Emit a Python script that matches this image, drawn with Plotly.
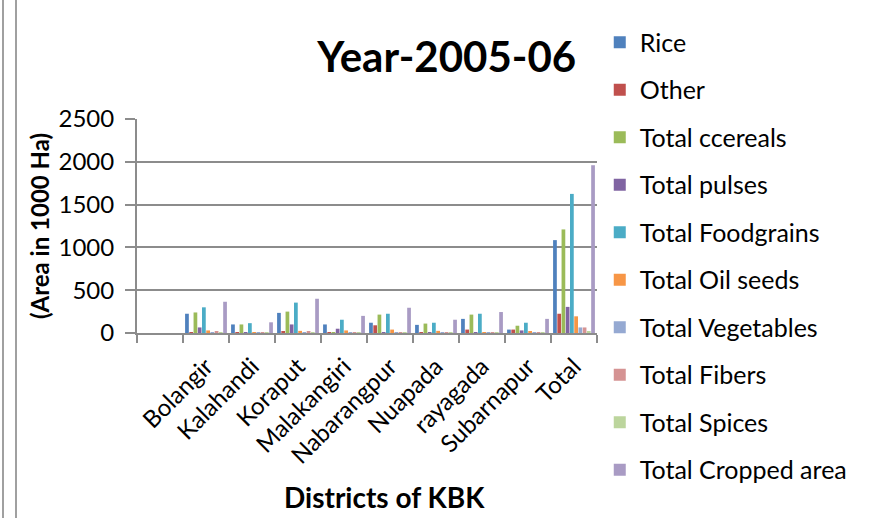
import plotly.graph_objects as go

districts = [" ", "Bolangir", "Kalahandi", "Koraput", "Malakangiri", "Nabarangpur",
             "Nuapada", "rayagada", "Subarnapur", "Total"]

rice        = [None, 225, 100, 235, 100, 120, 95, 165, 40, 1085]
other       = [None, 8, 3, 12, 3, 90, 8, 40, 40, 225]
cereals     = [None, 240, 100, 250, 3, 215, 110, 215, 85, 1210]
pulses      = [None, 65, 3, 100, 50, 10, 5, 8, 30, 305]
foodgrains  = [None, 300, 115, 355, 155, 225, 120, 225, 120, 1625]
oilseeds    = [None, 30, 3, 25, 30, 40, 25, 5, 15, 195]
vegetables  = [None, 10, 3, 10, 5, 5, 5, 5, 8, 65]
fibers      = [None, 15, 3, 12, 3, 5, 5, 5, 8, 65]
spices      = [None, 3, 2, 3, 2, 3, 2, 3, 3, 15]
cropped     = [None, 365, 125, 400, 200, 295, 155, 245, 165, 1960]

series = [
    ("Rice", rice, "#4F81BD"),
    ("Other", other, "#C0504D"),
    ("Total ccereals", cereals, "#9BBB59"),
    ("Total pulses", pulses, "#8064A2"),
    ("Total Foodgrains", foodgrains, "#4BACC6"),
    ("Total Oil seeds", oilseeds, "#F79646"),
    ("Total Vegetables", vegetables, "#95A9D2"),
    ("Total Fibers", fibers, "#D59393"),
    ("Total Spices", spices, "#BCD59D"),
    ("Total Cropped area", cropped, "#A99BC4"),
]

fig = go.Figure()
for name, vals, col in series:
    fig.add_trace(go.Bar(x=districts, y=vals, name=name, marker_color=col,
                         marker_line_width=0, legendgroup=name))

FONT = "Lato, Carlito, Calibri, sans-serif"
grid = "#8C8C8C"
PW, PH = 460, 214

fig.update_layout(
    width=869, height=518,
    margin=dict(l=137, r=272, t=119, b=185),
    paper_bgcolor="white", plot_bgcolor="white",
    barmode="group", bargap=0.08, bargroupgap=0.12,
    font=dict(family=FONT, color="black"),
    title=dict(text="<b>Year-2005-06</b>", x=0.514, xanchor="center",
               y=1 - 57/518, yanchor="middle",
               font=dict(size=42, family=FONT, color="black")),
    showlegend=True,
    legend=dict(x=1.006, xanchor="left", y=1.465, yanchor="top",
                font=dict(size=25, family=FONT, color="black"),
                traceorder="grouped", tracegroupgap=12, maxheight=520,
                itemwidth=30, bgcolor="rgba(0,0,0,0)"),
)

fig.update_yaxes(range=[0, 2500], dtick=500, showgrid=True, gridcolor=grid, gridwidth=2,
                 showline=True, linecolor=grid, linewidth=2,
                 ticks="outside", ticklen=10, tickcolor=grid, tickwidth=2,
                 ticklabelstandoff=6,
                 tickfont=dict(size=24, family=FONT, color="black"),
                 title=dict(text="<b>(Area in 1000 Ha)</b>", standoff=2,
                            font=dict(size=24, family=FONT, color="black")),
                 zeroline=False)

fig.update_xaxes(showline=True, linecolor=grid, linewidth=2,
                 ticks="outside", ticklen=8, tickcolor=grid, tickwidth=2,
                 tickson="boundaries", tickangle=-45, ticklabelstandoff=8,
                 tickfont=dict(size=24, family=FONT, color="black"))

# x-axis title placed like the original (slightly right of plot centre)
fig.add_annotation(text="<b>Districts of KBK</b>", xref="paper", yref="paper",
                   x=(384-137)/PW, y=-(497-333)/PH, xanchor="center", yanchor="middle",
                   showarrow=False, font=dict(size=28, family=FONT, color="black"))

# Left border lines of the spreadsheet frame
for xp in (3, 16):
    fig.add_shape(type="line", xref="paper", yref="paper",
                  x0=-(137-xp)/PW, x1=-(137-xp)/PW, y0=-185/PH, y1=119/PH + 1,
                  line=dict(color="#A0A0A0", width=2))

fig.write_html("out.html")
